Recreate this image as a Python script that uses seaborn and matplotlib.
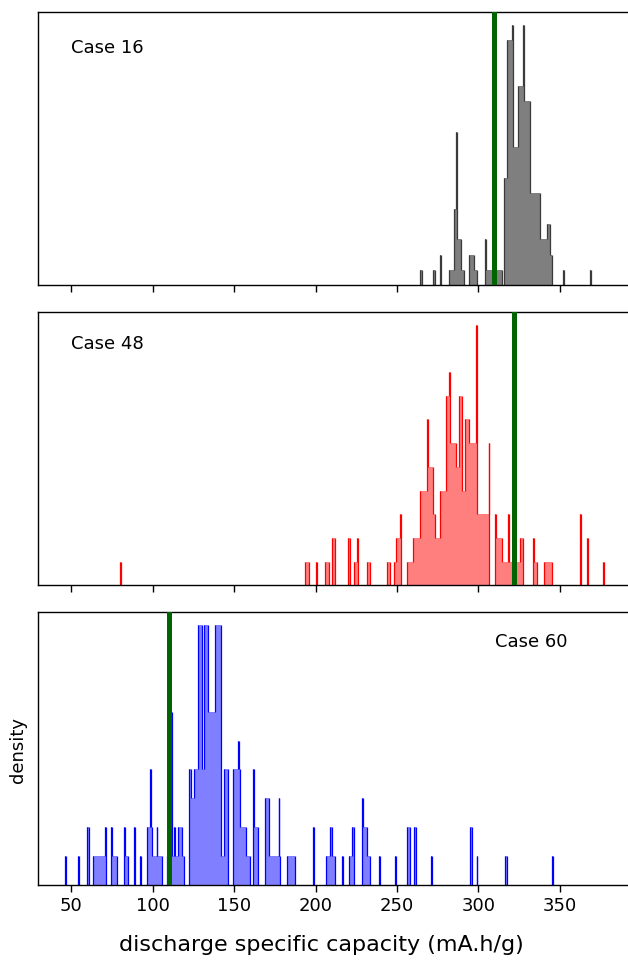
"""
Discharge specific capacity distributions for three cases
(step histograms, green line = reference value).
"""

import numpy as np
import pandas as pd
import matplotlib
matplotlib.use("Agg")
import matplotlib.pyplot as plt
import seaborn as sns

sns.set_style("ticks", {"axes.edgecolor": "black", "xtick.color": "black",
                        "text.color": "black", "axes.labelcolor": "black"})
plt.rcParams["font.family"] = ["DejaVu Sans"]

# ── data: bin left edge, right edge, count ──────────────────────────────────
# Case 16 (gray)
left16 = [264.4, 272.4, 276.5, 282.2, 284.9, 286.4, 286.9, 289.4, 294.1, 297.6,
          304.3, 304.8, 315.9, 317.4, 320.6, 321.1, 324.4, 327.7, 328.2, 331.6,
          338.2, 342.3, 344.3, 352.0, 368.5]
right16 = [265.2, 273.2, 277.3, 284.9, 286.4, 286.9, 289.4, 291.0, 297.6, 299.2,
           304.8, 314.6, 317.4, 320.6, 321.1, 324.4, 327.7, 328.2, 331.6, 338.2,
           342.3, 344.3, 345.3, 352.8, 369.3]
count16 = [1, 1, 2, 1, 5, 10, 3, 1, 2, 1,
           3, 1, 7, 16, 17, 9, 13, 17, 12, 6,
           3, 4, 2, 1, 1]

# Case 48 (red)
left48 = [80.0, 193.7, 200.1, 206.0, 210.1, 219.7, 223.6, 225.6, 231.7, 243.9,
          248.0, 249.5, 252.1, 256.2, 260.1, 264.4, 268.7, 269.2, 272.1, 273.6,
          276.5, 280.4, 282.1, 282.6, 286.3, 288.0, 289.9, 292.1, 294.0, 298.4,
          298.9, 306.3, 310.1, 310.6, 314.4, 318.3, 318.8, 325.6, 333.6, 334.2,
          340.2, 362.6, 366.6, 376.8]
right48 = [80.6, 195.7, 200.7, 208.0, 212.1, 221.3, 225.6, 226.2, 233.4, 245.7,
           249.5, 252.1, 252.6, 260.1, 264.4, 268.7, 269.2, 272.1, 273.6, 276.5,
           280.4, 282.1, 282.6, 286.3, 288.0, 289.9, 292.1, 294.0, 298.4, 298.9,
           306.3, 306.8, 310.6, 314.4, 318.3, 318.8, 325.6, 327.6, 334.2, 335.8,
           345.4, 363.2, 367.2, 377.4]
count48 = [1, 1, 1, 1, 2, 2, 1, 2, 1, 1,
           1, 2, 3, 1, 2, 4, 7, 5, 3, 2,
           4, 8, 9, 6, 5, 8, 4, 7, 6, 11,
           3, 6, 3, 2, 1, 3, 1, 2, 2, 1,
           1, 3, 2, 1]

# Case 60 (blue)
left60 = [45.9, 54.0, 59.8, 63.5, 70.5, 74.4, 74.9, 82.2, 82.7, 88.3,
          92.0, 96.3, 98.2, 98.7, 99.4, 102.3, 102.8, 109.0, 111.5, 112.0,
          113.1, 113.6, 115.7, 117.8, 122.5, 123.3, 125.6, 127.6, 130.1, 131.7,
          134.2, 138.3, 142.0, 144.0, 149.1, 152.2, 152.7, 153.6, 157.3, 161.4,
          161.9, 169.1, 171.7, 177.3, 177.8, 182.4, 198.5, 206.6, 208.7, 210.2,
          216.3, 220.7, 222.4, 228.6, 229.1, 231.6, 238.7, 248.7, 256.2, 260.3,
          270.7, 294.7, 298.9, 316.6, 345.0]
right60 = [46.5, 54.6, 61.0, 70.5, 71.0, 74.9, 77.9, 82.7, 84.8, 88.9,
           92.5, 98.2, 98.7, 99.4, 102.3, 102.8, 105.5, 111.5, 112.0, 113.1,
           113.6, 115.7, 117.8, 119.2, 123.3, 125.6, 127.6, 130.1, 131.7, 134.2,
           138.3, 142.0, 144.0, 146.1, 152.2, 152.7, 153.6, 157.3, 159.8, 161.9,
           164.9, 171.7, 177.3, 177.8, 178.3, 187.5, 199.1, 208.7, 210.2, 211.7,
           216.9, 222.4, 223.8, 229.1, 231.6, 233.6, 239.3, 249.3, 257.8, 261.9,
           271.3, 296.2, 299.5, 317.6, 345.6]
count60 = [1, 1, 2, 1, 2, 2, 1, 2, 1, 2,
           1, 2, 4, 2, 1, 2, 1, 1, 6, 1,
           2, 1, 2, 1, 4, 3, 4, 9, 4, 9,
           6, 9, 1, 4, 4, 5, 4, 2, 1, 4,
           2, 3, 1, 3, 1, 1, 2, 1, 2, 1,
           1, 1, 2, 3, 2, 1, 1, 1, 2, 2,
           1, 2, 1, 1, 1]

case_labels = ["Case 16", "Case 48", "Case 60"]
mark_values = [309.8, 322.1, 110.1]
xticks = [50, 100, 150, 200, 250, 300, 350]

panels = [
    (left16, right16, count16, "black", "#3a3a3a", (0.056, 0.866)),
    (left48, right48, count48, "red", "red", (0.056, 0.883)),
    (left60, right60, count60, "blue", "blue", (0.772, 0.889)),
]

# ── layout (pixel-matched to 628x968) ───────────────────────────────────────
W, H = 628, 968
fig = plt.figure(figsize=(W / 100, H / 100), dpi=100)
tops = [11.7, 311.7, 611.7]
ax_h = 273.6
ax_l, ax_r = 38, 630.5

for i, (lo, hi, cnt, col, ec, txy) in enumerate(panels):
    ax = fig.add_axes([ax_l / W, 1 - (tops[i] + ax_h) / H,
                       (ax_r - ax_l) / W, ax_h / H])
    lo, hi = np.asarray(lo), np.asarray(hi)
    edges = np.unique(np.round(np.concatenate([lo, hi]), 2))
    df = pd.DataFrame({"capacity": (lo + hi) / 2, "n": cnt})
    # filled steps, no outline on the tops
    sns.histplot(data=df, x="capacity", weights="n", bins=edges.tolist(),
                 element="step", fill=True, color=col, alpha=0.5,
                 linewidth=0, ax=ax)
    # vertical edges only, where the bin height changes
    h, _ = np.histogram(df["capacity"], bins=edges, weights=df["n"])
    h = np.concatenate([[0], h, [0]])
    lo_h = np.minimum(h[:-1], h[1:])
    hi_h = np.maximum(h[:-1], h[1:])
    keep = hi_h > lo_h
    ax.vlines(edges[keep], lo_h[keep], hi_h[keep], color=ec, lw=0.9)
    ax.axvline(mark_values[i], color="darkgreen", lw=3.6, zorder=3)
    ax.set_xlim(29.5, 393.5)
    ax.set_ylim(0, max(cnt) * 1.05)
    ax.set_yticks([])
    ax.set_xticks(xticks)
    ax.set_xlabel("")
    ax.set_ylabel("")
    for s in ax.spines.values():
        s.set_linewidth(1.0)
        s.set_color("black")
    ax.tick_params(axis="x", labelsize=13, length=5, width=1.0,
                   labelbottom=(i == 2))
    ax.text(txy[0], txy[1], case_labels[i], transform=ax.transAxes,
            fontsize=13, va="center", ha="left")

fig.text(321 / W, 1 - 945 / H, "discharge specific capacity (mA.h/g)",
         fontsize=16, ha="center", va="center")
fig.text(18 / W, 1 - 750 / H, "density", fontsize=13, rotation=90,
         ha="center", va="center")

fig.savefig("out.png", dpi=100)
